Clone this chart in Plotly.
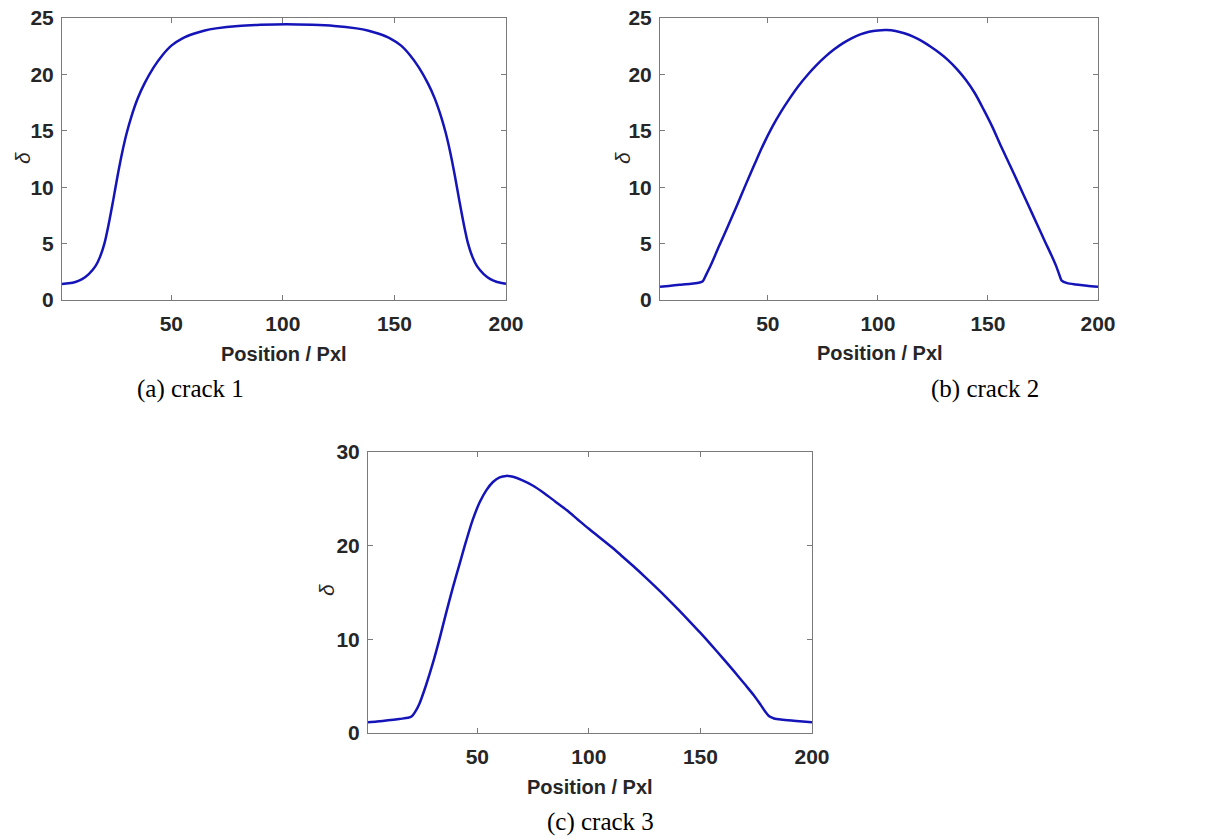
import plotly.graph_objects as go

W, H = 1208, 840

# ---- data ----
x_a = [1, 4, 7, 10, 13, 16, 18, 20, 22, 24, 26, 28, 30, 32, 35, 38, 42, 46, 50, 55, 60, 65, 70,
       80, 90, 101.5, 113, 123, 133, 138, 143, 148, 153, 157, 161, 165, 168, 171, 173, 175, 177,
       179, 181, 183, 185, 187, 190, 193, 196, 200]
y_a = [1.42, 1.48, 1.6, 1.85, 2.3, 3.0, 3.8, 5.0, 6.8, 8.9, 11.1, 13.1, 14.8, 16.2, 17.9, 19.2,
       20.6, 21.7, 22.55, 23.2, 23.6, 23.9, 24.08, 24.3, 24.4, 24.45, 24.4, 24.3, 24.08, 23.9, 23.6,
       23.2, 22.55, 21.7, 20.6, 19.2, 17.9, 16.2, 14.8, 13.1, 11.1, 8.9, 6.8, 5.0, 3.8, 3.0, 2.3,
       1.85, 1.6, 1.45]

x_b = [1, 5, 10, 15, 19, 20.5, 22, 24, 28, 32, 36, 40, 44, 48, 52, 56, 60, 64, 68, 72, 76, 80, 84,
       88, 92, 96, 100, 104, 108, 112, 116, 120, 124, 128, 132, 136, 140, 144, 148, 152, 156, 160,
       164, 168, 172, 176, 179, 181, 182.5, 183.5, 186, 190, 195, 200]
y_b = [1.18, 1.25, 1.35, 1.45, 1.55, 1.68, 2.25, 3.05, 4.85, 6.6, 8.4, 10.25, 12.05, 13.8, 15.35,
       16.7, 17.9, 19.0, 19.95, 20.8, 21.55, 22.2, 22.75, 23.2, 23.55, 23.78, 23.9, 23.93, 23.85,
       23.65, 23.35, 22.95, 22.45, 21.9, 21.25, 20.45, 19.5, 18.35, 16.9, 15.35, 13.6, 11.95, 10.25,
       8.55, 6.85, 5.15, 3.9, 3.0, 2.2, 1.72, 1.5, 1.38, 1.27, 1.18]

x_c = [1, 5, 10, 15, 19, 20.5, 22, 24, 27, 30, 33, 36, 39, 42, 45, 48, 51, 54, 57, 60, 63, 66, 70,
       75, 80, 85, 90, 95, 100, 110, 115, 120, 125, 130, 135, 140, 145, 150, 155, 160, 165, 170,
       174, 177, 179, 181, 183, 187, 193, 200]
y_c = [1.14, 1.22, 1.35, 1.5, 1.62, 1.75, 2.2, 3.1, 5.1, 7.4, 10.0, 12.8, 15.5, 18.0, 20.5, 22.8,
       24.6, 25.9, 26.8, 27.3, 27.45, 27.35, 27.0, 26.4, 25.6, 24.7, 23.8, 22.8, 21.8, 19.88, 18.85,
       17.8, 16.7, 15.57, 14.41, 13.2, 11.95, 10.68, 9.36, 8.0, 6.6, 5.17, 4.0, 3.0, 2.3, 1.75,
       1.55, 1.42, 1.28, 1.14]

x_ticks = [50, 100, 150, 200]
y_ticks_ab = [0, 5, 10, 15, 20, 25]
y_ticks_c = [0, 10, 20, 30]
captions = ["(a) crack 1", "(b) crack 2", "(c) crack 3"]
x_title = "Position / Pxl"
y_title = "δ"

LINE = "#1414b8"
AX = "#7a7a7a"
TXT = "#262626"

fig = go.Figure()
for i, (xs, ys) in enumerate([(x_a, y_a), (x_b, y_b), (x_c, y_c)]):
    suf = "" if i == 0 else str(i + 1)
    fig.add_trace(go.Scatter(x=xs, y=ys, mode="lines",
                             line=dict(color=LINE, width=2.5, shape="spline", smoothing=0.8),
                             xaxis="x" + suf, yaxis="y" + suf, showlegend=False,
                             hoverinfo="skip"))

def px_x(p):
    return p / W

def px_y(p):
    return 1 - p / H

tickfont = dict(family="Liberation Sans", size=21, color=TXT, weight="bold")
common = dict(showline=True, linecolor=AX, linewidth=1, mirror="ticks", ticks="inside",
              ticklen=5, tickcolor=AX, tickwidth=1, showgrid=False, zeroline=False,
              automargin=False, tickfont=tickfont)

boxes = [  # left, right, top, bottom in pixels
    (62, 506, 18, 300),
    (660, 1098, 18, 300),
    (368, 812, 452, 733),
]
yranges = [[0, 25], [0, 25], [0, 30]]
yticks = [y_ticks_ab, y_ticks_ab, y_ticks_c]

layout = dict(width=W, height=H, margin=dict(l=0, r=0, t=0, b=0, pad=0),
              paper_bgcolor="white", plot_bgcolor="white", showlegend=False)
for i, (l, r, t, b) in enumerate(boxes):
    suf = "" if i == 0 else str(i + 1)
    layout["xaxis" + suf] = dict(domain=[px_x(l), px_x(r)], range=[1, 200], tickvals=x_ticks,
                                 anchor="y" + suf, ticklabelstandoff=5, **common)
    layout["yaxis" + suf] = dict(domain=[px_y(b), px_y(t)], range=yranges[i], tickvals=yticks[i],
                                 anchor="x" + suf, ticklabelstandoff=3, **common)
fig.update_layout(**layout)

ann = []
ylab_pos = [(22, 158), (622, 158), (326, 590)]
xlab_pos = [(284, 354), (880, 353), (590, 787)]
cap_pos = [(190, 389), (985, 389), (600, 822)]
for i in range(3):
    ann.append(dict(text="<i>" + y_title + "</i>", x=px_x(ylab_pos[i][0]), y=px_y(ylab_pos[i][1]),
                    xref="paper", yref="paper", showarrow=False, textangle=-90,
                    xanchor="center", yanchor="middle",
                    font=dict(family="Liberation Sans", size=21, color=TXT)))
    ann.append(dict(text="<b>" + x_title + "</b>", x=px_x(xlab_pos[i][0]), y=px_y(xlab_pos[i][1]),
                    xref="paper", yref="paper", showarrow=False,
                    xanchor="center", yanchor="middle",
                    font=dict(family="Liberation Sans", size=20, color=TXT)))
    ann.append(dict(text=captions[i], x=px_x(cap_pos[i][0]), y=px_y(cap_pos[i][1]),
                    xref="paper", yref="paper", showarrow=False,
                    xanchor="center", yanchor="middle",
                    font=dict(family="Liberation Serif", size=25, color="black")))
fig.update_layout(annotations=ann)

fig.write_html("out.html")
